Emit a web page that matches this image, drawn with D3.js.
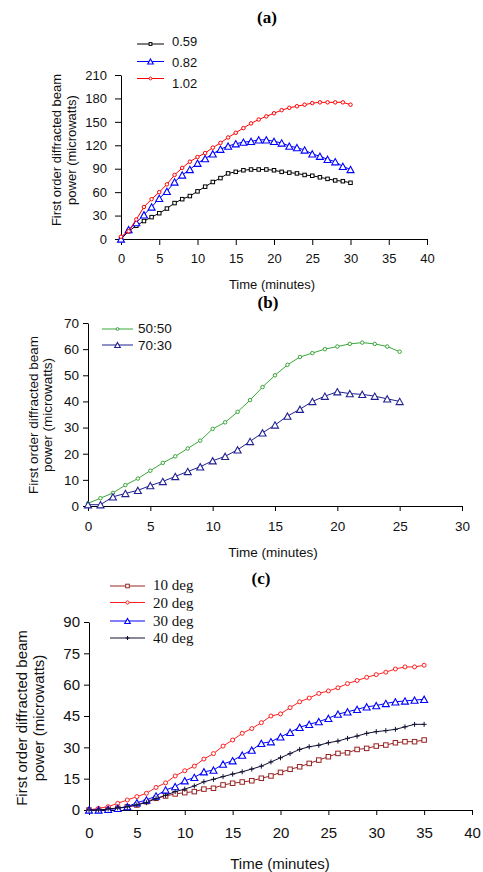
<!DOCTYPE html>
<html><head><meta charset="utf-8">
<script src="https://cdn.jsdelivr.net/npm/d3@7"></script>
<style>body{margin:0;background:#fff} svg{display:block}</style>
</head><body><svg id="chart" width="483" height="872"></svg>
<script>
// ---------- Panel (a) ----------
const minutesA = [0,1,2,3,4,5,6,7,8,9,10,11,12,13,14,15,16,17,18,19,20,21,22,23,24,25,26,27,28,29,30];
const power059 = [0,10,17,23,28,33,39,46,51,55,61,67,73,78,84,86,88,89,89,89,88,86,85,84,82,81,79,77,75,74,72];
const power082 = [0,12,21,31,41,52,61,73,82,89,97,103,109,115,119,122,124,125,127,127,125,123,119,117,114,109,106,102,99,93,89];
const power102 = [3,10,25,41,51,60,70,82,91,99,105,110,117,123,130,136,142,148,153,157,161,165,168,170,172,174,175,175,175,175,172];
const seriesA = ["0.59","0.82","1.02"];
const xTicksA = [0,5,10,15,20,25,30,35,40];
const yTicksA = [0,30,60,90,120,150,180,210];

// ---------- Panel (b) ----------
const minutesB = [0,1,2,3,4,5,6,7,8,9,10,11,12,13,14,15,16,17,18,19,20,21,22,23,24,25];
const power5050 = [1,3,5,8,10.5,13.5,16.5,19,22,25,29.5,32,36,40.5,45.5,50,54,57,58.5,60,61,62,62.5,62,61,59];
const power7030 = [0.5,0.5,3.5,4.8,6,7.8,9.4,11.3,13.2,15,17.3,19,21.5,24.7,28,31,34.4,37,40,42,43.7,43,42.7,42,41,40];
const seriesB = ["50:50","70:30"];
const xTicksB = [0,5,10,15,20,25,30];
const yTicksB = [0,10,20,30,40,50,60,70];

// ---------- Panel (c) ----------
const minutesC = [0,1,2,3,4,5,6,7,8,9,10,11,12,13,14,15,16,17,18,19,20,21,22,23,24,25,26,27,28,29,30,31,32,33,34,35];
const power10deg = [0,0,0.3,0.8,1.5,2.4,4,5.6,6.7,7.7,8.3,8.8,10,10.4,12,12.8,13.4,14,15.2,16.3,18,19.5,20.7,22.3,23.9,25.5,27.1,27.4,29,29.5,30.6,31.1,32.2,32.7,32.7,33.5];
const power20deg = [0,0.8,1.6,3.2,4.8,6.4,8,10.8,13,16.3,18.8,21,24.4,27,30.6,33.5,36.7,39,41.8,45,46,49,51.8,53.6,55.8,57,58.5,60.5,62,63.5,64.8,66,67.5,68.5,68.5,69.3];
const power30deg = [0,0,0.3,0.8,1.6,3.5,4.8,6.7,9.6,11.2,14,15.6,18.3,19.1,22,23.6,26.3,28.7,31.9,32.7,35,37.2,39.6,41,42.3,43.9,45.9,47,48.2,49.4,50,51,51.8,52.2,52.6,53];
const power40deg = [0,0,0.5,1,1.5,2.5,3.5,5.5,7,8.8,10,11.5,13.5,14.7,16,17.2,18.3,19.6,21,23,25,27,29,30.3,31,32.2,33,34.3,35.4,36.7,37.5,38,38.6,39.8,41,41];
const seriesC = ["10 deg","20 deg","30 deg","40 deg"];
const xTicksC = [0,5,10,15,20,25,30,35,40];
const yTicksC = [0,15,30,45,60,75,90];

const yLabel1 = "First order diffracted beam";
const yLabel2 = "power (microwatts)";
const xLabel = "Time (minutes)";

const svg = d3.select("#chart");
const SANS = "'Liberation Sans', Arial, sans-serif";
const SERIF = "'Liberation Serif', 'Times New Roman', serif";

function marker(g, shape, x, y, color, size) {
  if (shape === "square") {
    g.append("rect").attr("x", x - size/2).attr("y", y - size/2).attr("width", size).attr("height", size)
      .attr("fill", "#fff").attr("stroke", color).attr("stroke-width", 1);
  } else if (shape === "circle") {
    g.append("circle").attr("cx", x).attr("cy", y).attr("r", size/2)
      .attr("fill", "#fff").attr("stroke", color).attr("stroke-width", 1);
  } else if (shape === "triangle") {
    const h = size * 0.9;
    g.append("path").attr("d", `M${x},${y - h/2}L${x + size/2},${y + h/2}L${x - size/2},${y + h/2}Z`)
      .attr("fill", "#fff").attr("stroke", color).attr("stroke-width", 1.1);
  } else if (shape === "plus") {
    g.append("path").attr("d", `M${x},${y - size/2}V${y + size/2}M${x - size/2},${y}H${x + size/2}`)
      .attr("fill", "none").attr("stroke", color).attr("stroke-width", 1);
  }
}

function panel(cfg) {
  const g = svg.append("g");
  const x = d3.scaleLinear().domain(cfg.xDomain).range(cfg.xRange);
  const y = d3.scaleLinear().domain(cfg.yDomain).range(cfg.yRange);

  const xAxis = g.append("g").attr("transform", `translate(0,${cfg.yRange[0]})`)
    .call(d3.axisBottom(x).tickValues(cfg.xTicks).tickSize(cfg.tick).tickSizeOuter(0).tickPadding(cfg.xPad));
  const yAxis = g.append("g").attr("transform", `translate(${cfg.xRange[0]},0)`)
    .call(d3.axisLeft(y).tickValues(cfg.yTicks).tickSize(cfg.tick).tickSizeOuter(0).tickPadding(cfg.yPad));
  [xAxis, yAxis].forEach(a => {
    a.selectAll("path,line").attr("stroke", "#000").attr("stroke-width", 1);
    a.selectAll("text").attr("font-family", SANS).attr("font-size", cfg.fs).attr("font-weight", "normal").attr("fill", "#111");
  });

  const line = d3.line().x(d => x(d[0])).y(d => y(d[1]));
  cfg.series.forEach(s => {
    const pts = cfg.xs.map((t, i) => [t, s.values[i]]);
    g.append("path").datum(pts).attr("d", line).attr("fill", "none").attr("stroke", s.color).attr("stroke-width", 1);
    const mg = g.append("g");
    pts.forEach(p => marker(mg, s.shape, x(p[0]), y(p[1]), s.color, s.size));
  });

  // legend
  cfg.series.forEach((s, i) => {
    const L = cfg.legend;
    const ly = L.lineY[i];
    g.append("line").attr("x1", L.x1).attr("x2", L.x2).attr("y1", ly).attr("y2", ly)
      .attr("stroke", s.color).attr("stroke-width", 1);
    marker(g, s.shape, (L.x1 + L.x2) / 2, ly, s.color, s.size * 0.8);
    g.append("text").attr("x", L.tx).attr("y", L.textY[i]).text(s.name)
      .attr("font-family", L.font).attr("font-size", L.fs).attr("fill", "#111");
  });

  // title
  g.append("text").attr("x", cfg.title.x).attr("y", cfg.title.y).attr("text-anchor", "middle")
    .attr("font-family", SERIF).attr("font-weight", "bold").attr("font-size", 17).text(cfg.title.t);
  // x label
  g.append("text").attr("x", cfg.xl.x).attr("y", cfg.xl.y).attr("text-anchor", "middle")
    .attr("font-family", SANS).attr("font-weight", "normal").attr("fill", "#111").attr("font-size", cfg.fs).text(xLabel);
  // y labels
  [[yLabel1, cfg.yl.x1], [yLabel2, cfg.yl.x2]].forEach(([t, bx]) => {
    g.append("text").attr("transform", `translate(${bx},${cfg.yl.cy}) rotate(-90)`)
      .attr("text-anchor", "middle").attr("font-family", SANS).attr("fill", "#111").attr("font-size", cfg.fs).text(t);
  });
}

panel({
  xDomain: [0, 40], xRange: [121, 427], yDomain: [0, 210], yRange: [239, 75],
  xTicks: xTicksA, yTicks: yTicksA, tick: 6, xPad: 9, yPad: 8, fs: 13,
  xs: minutesA,
  series: [
    {name: seriesA[0], values: power059, color: "#000000", shape: "square", size: 3.5},
    {name: seriesA[1], values: power082, color: "#0000ff", shape: "triangle", size: 7},
    {name: seriesA[2], values: power102, color: "#ff0000", shape: "circle", size: 3.5}
  ],
  legend: {x1: 137, x2: 164, lineY: [44, 61.5, 78.5], tx: 172, textY: [45.5, 66.5, 87.5], font: SANS, fs: 13},
  title: {x: 267, y: 23, t: "(a)"},
  xl: {x: 272, y: 289},
  yl: {x1: 61, x2: 76, cy: 150}
});

panel({
  xDomain: [0, 30], xRange: [88, 462], yDomain: [0, 70], yRange: [506, 323],
  xTicks: xTicksB, yTicks: yTicksB, tick: 5, xPad: 10, yPad: 4, fs: 13.5,
  xs: minutesB,
  series: [
    {name: seriesB[0], values: power5050, color: "#3aa63a", shape: "circle", size: 3.5},
    {name: seriesB[1], values: power7030, color: "#20208f", shape: "triangle", size: 7}
  ],
  legend: {x1: 102, x2: 133, lineY: [329, 345], tx: 138, textY: [332.5, 349.5], font: SANS, fs: 13.5},
  title: {x: 268, y: 308, t: "(b)"},
  xl: {x: 273, y: 557},
  yl: {x1: 38, x2: 52, cy: 415}
});

panel({
  xDomain: [0, 40], xRange: [89, 472], yDomain: [0, 90], yRange: [810, 622],
  xTicks: xTicksC, yTicks: yTicksC, tick: 5, xPad: 12, yPad: 4, fs: 15,
  xs: minutesC,
  series: [
    {name: seriesC[0], values: power10deg, color: "#992222", shape: "square", size: 4.5},
    {name: seriesC[1], values: power20deg, color: "#ff2020", shape: "circle", size: 4},
    {name: seriesC[2], values: power30deg, color: "#0000ff", shape: "triangle", size: 7},
    {name: seriesC[3], values: power40deg, color: "#111133", shape: "plus", size: 5}
  ],
  legend: {x1: 110, x2: 145, lineY: [586, 602.5, 621, 638], tx: 153, textY: [590, 607.5, 626, 643], font: SERIF, fs: 15},
  title: {x: 261, y: 584, t: "(c)"},
  xl: {x: 280, y: 869},
  yl: {x1: 27, x2: 44, cy: 718}
});
</script>
</body></html>
